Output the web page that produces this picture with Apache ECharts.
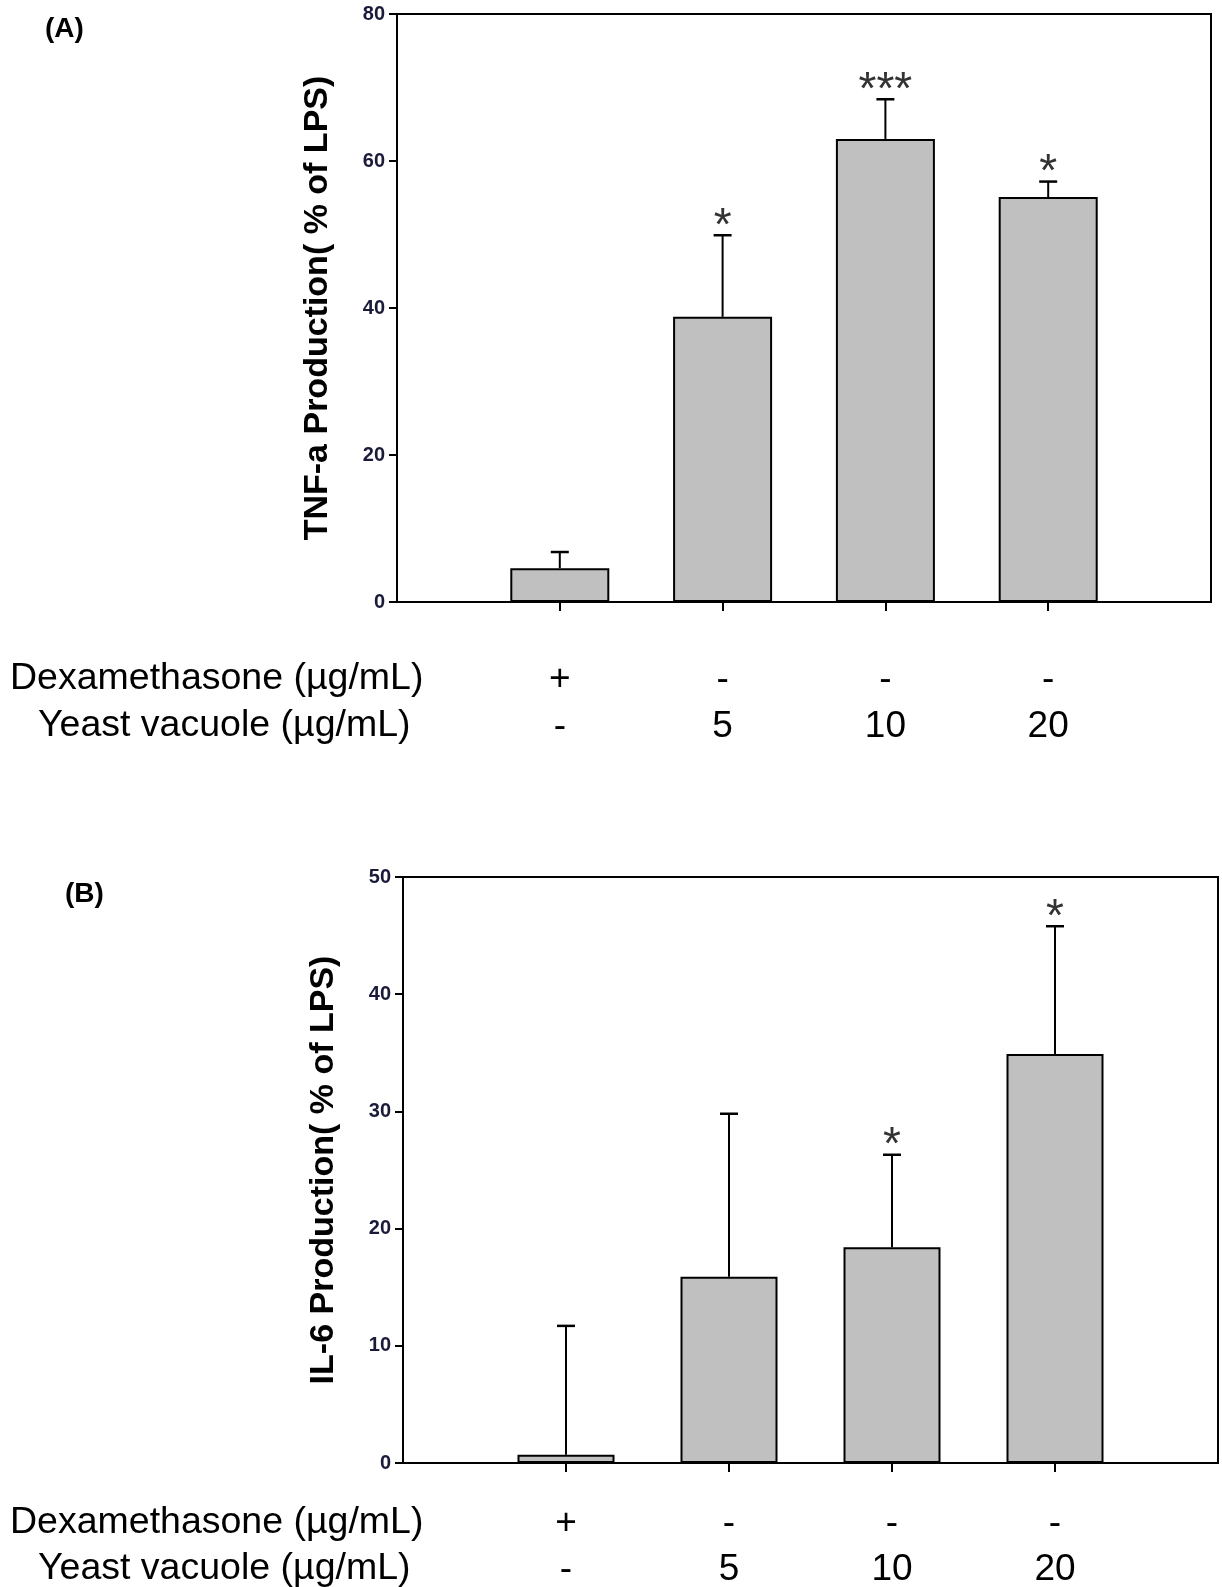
<!DOCTYPE html>
<html><head><meta charset="utf-8">
<script src="https://cdn.jsdelivr.net/npm/echarts@6/dist/echarts.min.js"></script>
<style>html,body{margin:0;padding:0;background:#fff}#c{width:1222px;height:1587px}</style>
</head><body><div id="c"></div>
<script>
// ---- data ----
const positions = [1, 2, 3, 4];
const dexLabels = ['+', '-', '-', '-'];
const yeastLabels = ['-', '5', '10', '20'];
const tnfMean = [4.6, 38.8, 63.0, 55.1];
const tnfErr = [2.2, 11.1, 5.4, 2.1];
const tnfStars = ['', '*', '***', '*'];
const il6Mean = [0.7, 15.9, 18.4, 34.9];
const il6Err = [11.0, 13.9, 7.9, 10.9];
const il6Stars = ['', '', '*', '*'];
const tnfTicks = [0, 20, 40, 60, 80];
const il6Ticks = [0, 10, 20, 30, 40, 50];

const FONT = '"Liberation Sans", Arial, sans-serif';

function errRender(stars) {
  return function (params, api) {
    const x = api.value(0), m = api.value(1), e = api.value(2);
    const p0 = api.coord([x, m]);
    const p1 = api.coord([x, m + e]);
    const children = [
      { type: 'line', shape: { x1: p0[0], y1: p0[1], x2: p1[0], y2: p1[1] }, style: { stroke: '#000', lineWidth: 2 } },
      { type: 'line', shape: { x1: p1[0] - 9, y1: p1[1], x2: p1[0] + 9, y2: p1[1] }, style: { stroke: '#000', lineWidth: 2.5 } }
    ];
    const s = stars[params.dataIndex];
    if (s) {
      children.push({ type: 'text', x: p1[0], y: p1[1] - 8,
        style: { text: s, fill: '#333', font: '46px ' + FONT, align: 'center', verticalAlign: 'middle' } });
    }
    return { type: 'group', children: children };
  };
}

function xAxisCfg(gridIndex, margin, lh) {
  return {
    type: 'value', gridIndex: gridIndex, min: 0, max: 5, interval: 1,
    axisLine: { show: true, lineStyle: { color: '#000', width: 2 } },
    axisTick: { show: true, customValues: positions, length: 9, lineStyle: { color: '#000', width: 2 } },
    axisLabel: {
      show: true, customValues: positions, margin: margin, color: '#000',
      fontFamily: FONT, fontSize: 37, lineHeight: lh, verticalAlign: 'top',
      formatter: function (v) { const i = positions.indexOf(v); return i < 0 ? '' : dexLabels[i] + '\n' + yeastLabels[i]; }
    },
    splitLine: { show: false }
  };
}

function yAxisCfg(gridIndex, ticks, name) {
  return {
    type: 'value', gridIndex: gridIndex, min: ticks[0], max: ticks[ticks.length - 1], interval: ticks[1] - ticks[0],
    name: name, nameLocation: 'middle', nameGap: 62,
    nameTextStyle: { fontFamily: FONT, fontWeight: 'bold', fontSize: 34, color: '#000' },
    axisLine: { show: true, lineStyle: { color: '#000', width: 2 } },
    axisTick: { show: true, length: 8, lineStyle: { color: '#000', width: 2 } },
    axisLabel: { margin: 12, fontFamily: FONT, fontWeight: 'bold', fontSize: 20, color: '#1a1a3a' },
    splitLine: { show: false }
  };
}

const chart = echarts.init(document.getElementById('c'), null, { renderer: 'canvas' });
chart.setOption({
  animation: false,
  backgroundColor: '#fff',
  grid: [
    { left: 397, top: 14, width: 814, height: 588, show: true, borderColor: '#000', borderWidth: 2, containLabel: false, outerBoundsMode: 'none' },
    { left: 403, top: 877, width: 815, height: 586, show: true, borderColor: '#000', borderWidth: 2, containLabel: false, outerBoundsMode: 'none' }
  ],
  xAxis: [xAxisCfg(0, 54, 47), xAxisCfg(1, 38, 46)],
  yAxis: [yAxisCfg(0, tnfTicks, 'TNF-a Production( % of LPS)'), yAxisCfg(1, il6Ticks, 'IL-6 Production( % of LPS)')],
  series: [
    { type: 'bar', xAxisIndex: 0, yAxisIndex: 0, barWidth: 99,
      itemStyle: { color: '#c0c0c0', borderColor: '#000', borderWidth: 2 },
      data: positions.map((p, i) => [p, tnfMean[i]]) },
    { type: 'custom', xAxisIndex: 0, yAxisIndex: 0, renderItem: errRender(tnfStars), z: 3,
      data: positions.map((p, i) => [p, tnfMean[i], tnfErr[i]]) },
    { type: 'bar', xAxisIndex: 1, yAxisIndex: 1, barWidth: 97,
      itemStyle: { color: '#c0c0c0', borderColor: '#000', borderWidth: 2 },
      data: positions.map((p, i) => [p, il6Mean[i]]) },
    { type: 'custom', xAxisIndex: 1, yAxisIndex: 1, renderItem: errRender(il6Stars), z: 3,
      data: positions.map((p, i) => [p, il6Mean[i], il6Err[i]]) }
  ],
  graphic: [
    { type: 'text', left: 45, top: 15, style: { text: '(A)', font: 'bold 28px ' + FONT, fill: '#000' } },
    { type: 'text', left: 65, top: 880, style: { text: '(B)', font: 'bold 28px ' + FONT, fill: '#000' } },
    { type: 'text', x: 10, y: 679, style: { text: 'Dexamethasone (µg/mL)', font: '37.5px ' + FONT, fill: '#000', verticalAlign: 'middle' } },
    { type: 'text', x: 38, y: 726, style: { text: 'Yeast vacuole (µg/mL)', font: '37.5px ' + FONT, fill: '#000', verticalAlign: 'middle' } },
    { type: 'text', x: 10, y: 1523, style: { text: 'Dexamethasone (µg/mL)', font: '37.5px ' + FONT, fill: '#000', verticalAlign: 'middle' } },
    { type: 'text', x: 38, y: 1569, style: { text: 'Yeast vacuole (µg/mL)', font: '37.5px ' + FONT, fill: '#000', verticalAlign: 'middle' } }
  ]
});
</script>
</body></html>
